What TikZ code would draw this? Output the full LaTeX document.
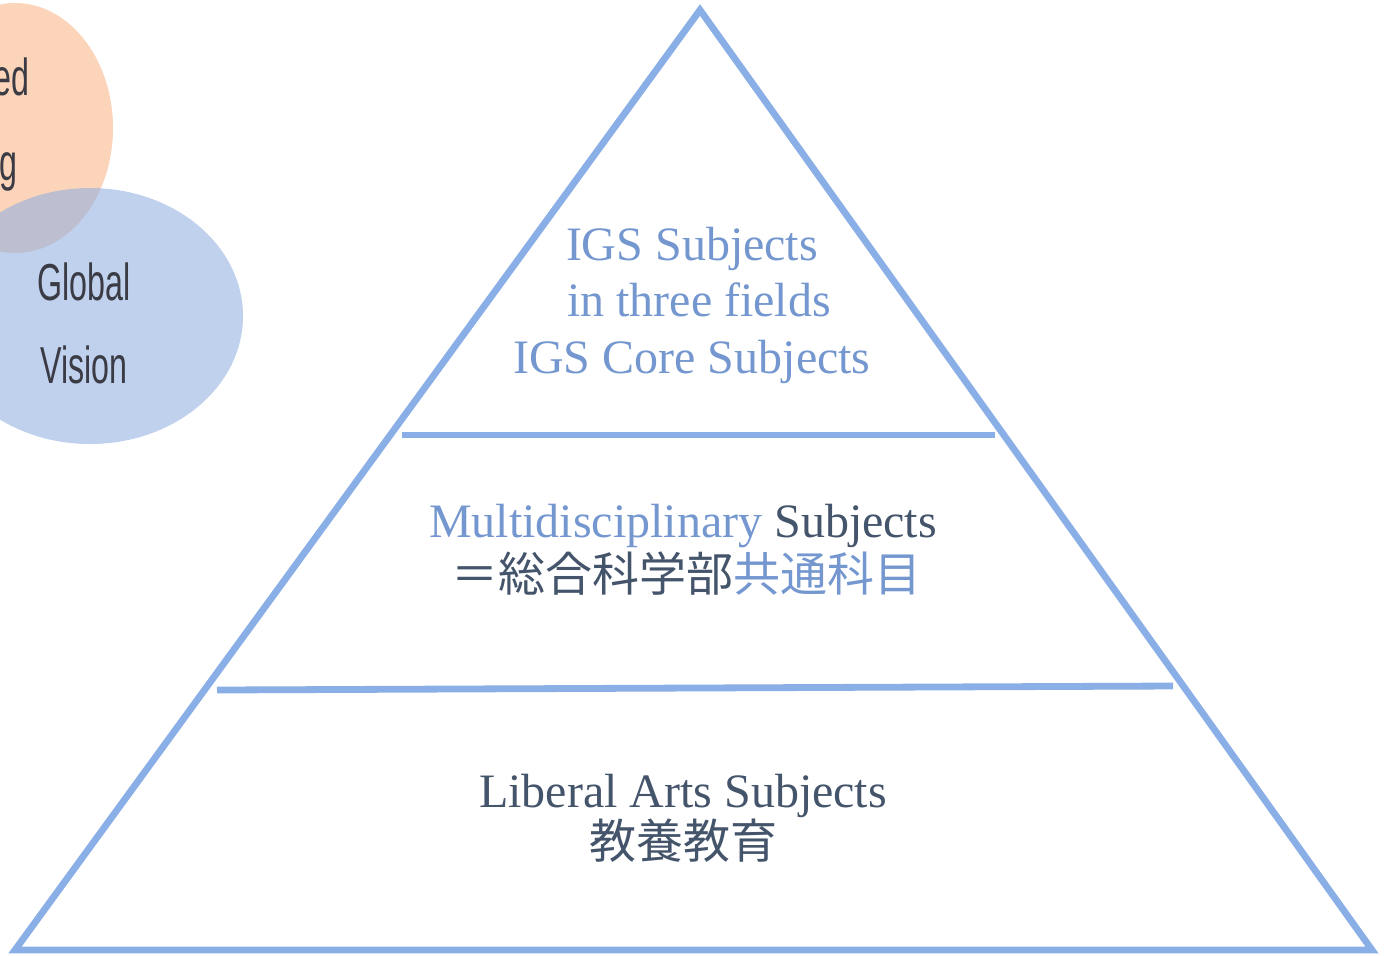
\documentclass[tikz,border=0pt]{standalone}
\usepackage{fontspec}
\setmainfont{Liberation Serif}
\newfontfamily\jpfont{Noto Sans CJK JP}
\newfontfamily\condfont[FakeStretch=0.62]{Liberation Sans}
\definecolor{pyramidline}{HTML}{89AFE6}
\definecolor{igsblue}{HTML}{7497CF}
\definecolor{darktext}{HTML}{44546A}
\definecolor{circletext}{HTML}{3B3B45}
\definecolor{orangefill}{HTML}{FBD4B9}
\definecolor{bluefill}{HTML}{94B2E0}

\begin{document}
\begin{tikzpicture}[
        x = 0.5pt, y = -0.5pt, % one unit = one pixel of the reference
        line width = 3.4pt, % pyramid lines
        line join = miter
    ]

    \tikzset{
        layer/.style = {draw = pyramidline},
        entext/.style = {anchor = base, inner sep = 0pt,
            font = \fontsize{24}{28}\selectfont},
        jptext/.style = {anchor = base, inner sep = 0pt,
            font = \jpfont\fontsize{23.5}{28}\selectfont},
        circlabel/.style = {anchor = base, inner sep = 0pt, text = circletext,
            font = \condfont\fontsize{26}{30}\selectfont}
    }

    \useasboundingbox (0,0) rectangle (1385,955);
    \clip (0,0) rectangle (1385,955);

    % the two circles on the left
    \fill[orangefill] (15,128) ellipse [x radius = 98, y radius = 125];
    \fill[bluefill, opacity = 0.6] (90,316) ellipse [x radius = 153, y radius = 128];

    \node[circlabel, anchor = base east] (ed) at (33,95) {ed};
    \node[circlabel, anchor = base east] (g) at (21,180) {g};
    \node[circlabel] (global) at (84,300) {Global};
    \node[circlabel] (vision) at (84,383) {Vision};

    % the pyramid
    \coordinate (top) at (700,10);
    \coordinate (bl) at (15,950);
    \coordinate (br) at (1372,950);
    \draw[layer] (top) -- (bl) -- (br) -- cycle;

    \coordinate (l1) at (402,435);
    \coordinate (r1) at (995,435);
    \coordinate (l2) at (217,690);
    \coordinate (r2) at (1173,686);
    \draw[layer] (l1) -- (r1);
    \draw[layer] (l2) -- (r2);

    % top layer
    \node[entext, text = igsblue] (igs) at (692,260) {IGS Subjects};
    \node[entext, text = igsblue] (fields) at (699,316) {in three fields};
    \node[entext, text = igsblue] (core) at (692,373) {IGS Core Subjects};

    % middle layer
    \node[entext, text = darktext] (multi) at (683,537)
        {\textcolor{igsblue}{Multidisciplinary} Subjects};
    \node[jptext, text = darktext] (multijp) at (686,591)
        {＝総合科学部\textcolor{igsblue}{共通科目}};

    % bottom layer
    \node[entext, text = darktext] (liberal) at (683,807) {Liberal Arts Subjects};
    \node[jptext, text = darktext] (liberaljp) at (683,858) {教養教育};
\end{tikzpicture}
\end{document}
